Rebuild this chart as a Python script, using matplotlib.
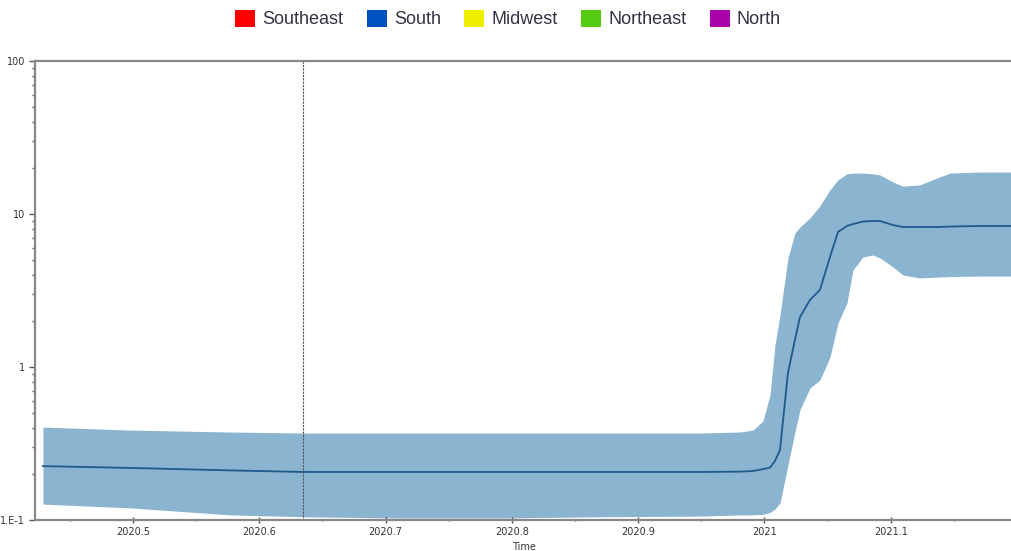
import matplotlib
matplotlib.use("Agg")
import matplotlib.pyplot as plt
from matplotlib.patches import Patch
from matplotlib.ticker import FixedLocator, LogLocator, NullFormatter

# Skyline: time (decimal years), median and 95% HPD bounds
time = [2020.4287, 2020.4976, 2020.5768, 2020.6346, 2020.7114, 2020.7906,
        2020.8698, 2020.9489, 2020.9806, 2020.9909, 2020.9988, 2021.0044,
        2021.0083, 2021.0123, 2021.0186, 2021.0241, 2021.0281, 2021.0360,
        2021.0439, 2021.0519, 2021.0582, 2021.0653, 2021.0701, 2021.0780,
        2021.0859, 2021.0914, 2021.1017, 2021.1097, 2021.1231, 2021.1366,
        2021.1469, 2021.1706, 2021.1960]
median = [0.225, 0.219, 0.211, 0.206, 0.206, 0.206,
          0.206, 0.206, 0.207, 0.209, 0.215, 0.220,
          0.243, 0.287, 0.914, 1.50, 2.12, 2.74,
          3.19, 5.24, 7.63, 8.35, 8.60, 8.93,
          9.00, 9.00, 8.47, 8.22, 8.22, 8.22,
          8.28, 8.35, 8.35]
upper = [0.405, 0.387, 0.376, 0.370, 0.370, 0.370,
         0.370, 0.370, 0.376, 0.387, 0.444, 0.656,
         1.39, 2.19, 5.16, 7.51, 8.22, 9.42,
         11.3, 14.4, 16.7, 18.3, 18.5, 18.5,
         18.3, 18.0, 16.2, 15.2, 15.5, 17.2,
         18.5, 18.8, 18.8]
lower = [0.127, 0.120, 0.108, 0.105, 0.103, 0.103,
         0.105, 0.106, 0.108, 0.108, 0.109, 0.112,
         0.118, 0.129, 0.229, 0.376, 0.524, 0.729,
         0.822, 1.16, 1.94, 2.62, 4.31, 5.24,
         5.40, 5.16, 4.51, 3.99, 3.82, 3.87,
         3.90, 3.93, 3.93]
marker_time = 2020.635

regions = ["Southeast", "South", "Midwest", "Northeast", "North"]
region_colors = ["#FF0000", "#0050C0", "#EEEE00", "#55CC11", "#AA00AA"]

x_ticks = [2020.5, 2020.6, 2020.7, 2020.8, 2020.9, 2021.0, 2021.1]
x_tick_labels = ["2020.5", "2020.6", "2020.7", "2020.8", "2020.9", "2021", "2021.1"]
y_ticks = [0.1, 1, 10, 100]
y_tick_labels = ["1.E-1", "1", "10", "100"]

fig = plt.figure(figsize=(10.12, 5.51), dpi=100)
ax = fig.add_axes([35 / 1012, 31 / 551, 977 / 1012, 459 / 551])

ax.fill_between(time, lower, upper, color="#8AB4D0", linewidth=0)
ax.plot(time, median, color="#1F5A8C", linewidth=1.3)
ax.axvline(marker_time, color="#555555", linewidth=0.8, linestyle=(0, (2, 1)))

ax.set_yscale("log")
ax.set_ylim(0.1, 100)
ax.set_xlim(2020.4224, 2021.1960)

ax.set_yticks(y_ticks)
ax.set_yticklabels(y_tick_labels)
ax.yaxis.set_minor_locator(LogLocator(base=10, subs=range(2, 10)))
ax.yaxis.set_minor_formatter(NullFormatter())
ax.set_xticks(x_ticks)
ax.set_xticklabels(x_tick_labels)
ax.xaxis.set_minor_locator(FixedLocator([t + 0.05 for t in [2020.4] + x_ticks]))

ax.tick_params(which="major", length=4, width=1, color="#555555",
               labelsize=7, labelcolor="#333333", pad=3)
ax.tick_params(which="minor", length=2, width=1, color="#555555")
ax.tick_params(axis="x", which="both", direction="inout")

for side in ["left", "bottom", "top"]:
    ax.spines[side].set_color("#888888")
    ax.spines[side].set_linewidth(1.6)
ax.spines["right"].set_visible(False)

ax.set_xlabel("Time", fontsize=7, color="#333333", labelpad=4)

handles = [Patch(facecolor=c, edgecolor="none") for c in region_colors]
fig.legend(handles, regions, loc="center", bbox_to_anchor=(508 / 1012, 1 - 19 / 551),
           ncol=5, frameon=False, handlelength=1.1, handleheight=1.1,
           handletextpad=0.4, columnspacing=1.3,
           prop={"family": ["Liberation Sans", "DejaVu Sans"], "size": 13},
           labelcolor="#333344")

fig.savefig("out.png", dpi=100, facecolor="white")
